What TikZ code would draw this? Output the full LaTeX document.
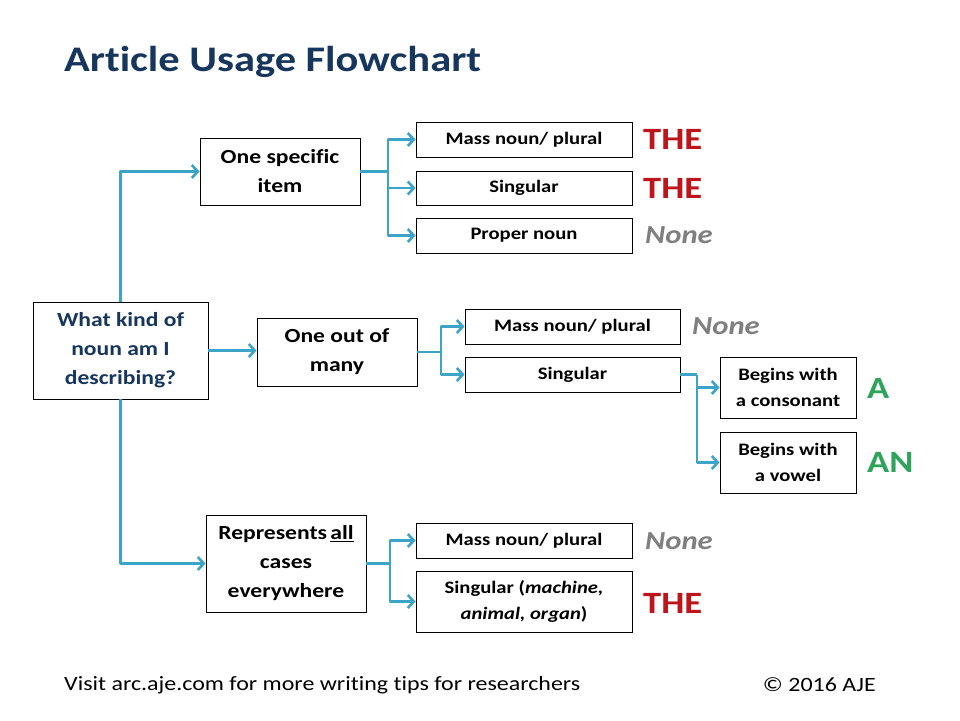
\documentclass[tikz,border=0pt]{standalone}
\usepackage{fontspec}
\setmainfont{Carlito}[FakeStretch=1.18, Ligatures=NoCommon]
\usetikzlibrary{arrows.meta}
\definecolor{navy}{HTML}{17365D}
\definecolor{connc}{HTML}{3CA4C6}
\definecolor{thered}{HTML}{C0141B}
\definecolor{nonegray}{HTML}{7F7F7F}
\definecolor{agreen}{HTML}{2EA35A}
\begin{document}
\begin{tikzpicture}[x=1pt,y=-1pt,
  box/.style={draw=black, line width=0.9pt, fill=white, inner sep=0pt, align=center,
    font=\bfseries\fontsize{20}{29}\selectfont},
  sbox/.style={box, font=\bfseries\fontsize{17.5}{26}\selectfont},
  conn/.style={draw=connc, line width=2.8pt, line join=round},
  arr/.style={conn, -{Straight Barb[length=6pt,width=13pt,line width=2.6pt]}},
  ans/.style={anchor=west, inner sep=0pt, font=\bfseries\fontsize{31}{31}\selectfont},
  the/.style={ans, text=thered},
  none/.style={ans, text=nonegray, font=\bfseries\itshape\fontsize{26}{26}\selectfont},
  art/.style={ans, text=agreen, font=\bfseries\fontsize{31}{31}\selectfont},
  foot/.style={inner sep=0pt, font=\fontsize{20.3}{24}\selectfont}]
\useasboundingbox[fill=white] (0,0) rectangle (960,720);

\node[anchor=base west, inner sep=0pt, text=navy, font=\bfseries\fontsize{36}{40}\selectfont] (title) at (64,71) {Article Usage Flowchart};

\node[box, text=navy, minimum width=175pt, minimum height=97pt] (main) at (120.5,350.5) {What kind of\\noun am I\\describing?};
\node[box, minimum width=160pt, minimum height=67pt] (spec) at (280,171.5) {One specific\\item};
\node[box, minimum width=160pt, minimum height=68pt] (many) at (337,352) {One out of\\many};
\node[box, minimum width=160pt, minimum height=97pt] (rep) at (286,563.5) {Represents\,\underline{all}\\cases\\everywhere};

\node[sbox, minimum width=216pt, minimum height=35pt] (m1) at (524,139.5) {Mass noun/ plural};
\node[sbox, minimum width=216pt, minimum height=34pt] (s1) at (524,188) {Singular};
\node[sbox, minimum width=216pt, minimum height=35pt] (p1) at (524,235.5) {Proper noun};
\node[sbox, minimum width=215pt, minimum height=35pt] (m2) at (572.5,326.5) {Mass noun/ plural};
\node[sbox, minimum width=215pt, minimum height=35pt] (s2) at (572.5,374.5) {Singular};
\node[sbox, minimum width=136pt, minimum height=61pt] (cons) at (788,387.5) {Begins with\\a consonant};
\node[sbox, minimum width=136pt, minimum height=61pt] (vow) at (788,462.5) {Begins with\\a vowel};
\node[sbox, minimum width=216pt, minimum height=35pt] (m3) at (524,540.5) {Mass noun/ plural};
\node[sbox, minimum width=216pt, minimum height=61pt] (s3) at (524,601.5) {Singular (\textit{machine,}\\\textit{animal, organ})};

\node[the] (a1) at (643,139) {THE};
\node[the] (a2) at (643,188) {THE};
\node[none] (a3) at (645,235) {None};
\node[none] (a4) at (692,326.5) {None};
\node[art] (a5) at (867,388) {A};
\node[art] (a6) at (867,462.5) {AN};
\node[none] (a7) at (645,541) {None};
\node[the] (a8) at (643,603) {THE};

% connectors
\draw[arr] (main.north) |- (spec.west);
\draw[arr] (main.south) |- (rep.west);
\draw[arr] (main.east) -- (many.west |- main.east);

\coordinate (b1) at (388,171.5);
\draw[conn] (spec.east) -- (b1);
\draw[arr] (b1) |- (m1.west);
\draw[arr] (b1) |- (s1.west);
\draw[arr] (b1) |- (p1.west);

\coordinate (b2) at (441,352);
\draw[conn] (many.east) -- (b2);
\draw[arr] (b2) |- (m2.west);
\draw[arr] (b2) |- (s2.west);

\coordinate (b3) at (697,374.5);
\draw[conn] (s2.east) -- (b3);
\draw[arr] (b3) |- (cons.west);
\draw[arr] (b3) |- (vow.west);

\coordinate (b4) at (390,563.5);
\draw[conn] (rep.east) -- (b4);
\draw[arr] (b4) |- (m3.west);
\draw[arr] (b4) |- (s3.west);

\node[foot, anchor=west] (f1) at (64,685) {Visit arc.aje.com for more writing tips for researchers};
\node[foot, anchor=east] (f2) at (876,685) {© 2016 AJE};
\end{tikzpicture}
\end{document}
